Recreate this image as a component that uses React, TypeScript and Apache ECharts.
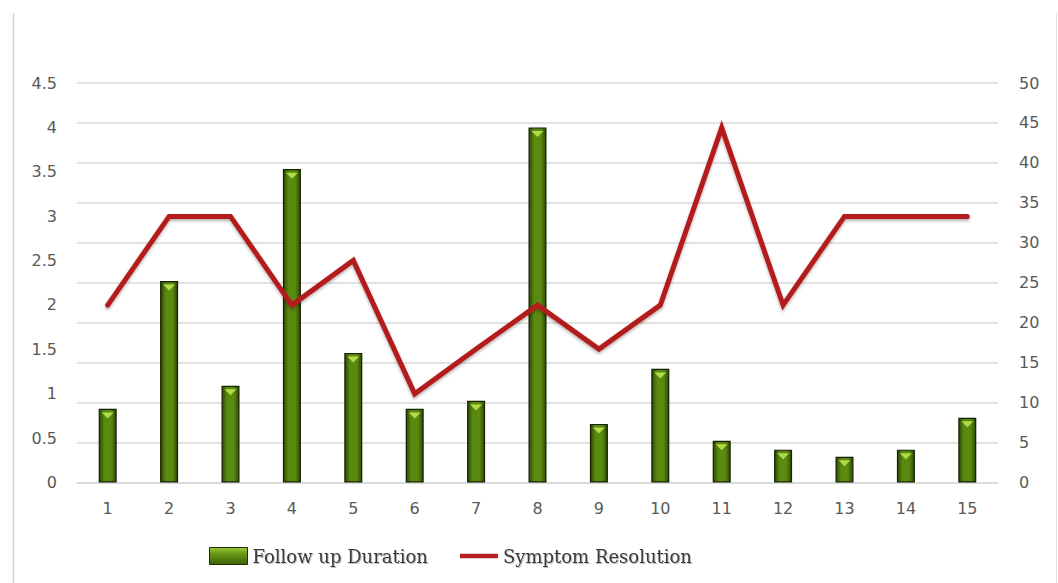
import React, { useEffect, useRef } from "react";
import * as echarts from "echarts";

const categories = ["1", "2", "3", "4", "5", "6", "7", "8", "9", "10", "11", "12", "13", "14", "15"];
const followUpDuration = [0.83, 2.27, 1.09, 3.53, 1.46, 0.83, 0.92, 4.0, 0.66, 1.28, 0.47, 0.37, 0.29, 0.37, 0.73];
const symptomResolution = [22.2, 33.3, 33.3, 22.2, 27.8, 11.1, 16.7, 22.2, 16.7, 22.2, 44.4, 22.2, 33.3, 33.3, 33.3];

export default function App() {
  const ref = useRef<HTMLDivElement>(null);
  useEffect(() => {
    document.body.style.margin = "0";
    const chart = echarts.init(ref.current!, undefined, { renderer: "svg" });
    const barGradient = new echarts.graphic.LinearGradient(0, 0, 1, 0, [
      { offset: 0, color: "#2e4a04" },
      { offset: 0.3, color: "#5a8a10" },
      { offset: 0.7, color: "#5a8a10" },
      { offset: 1, color: "#2e4a04" },
    ]);
    const legendGradient = new echarts.graphic.LinearGradient(0, 0, 0, 1, [
      { offset: 0, color: "#9ccc3a" },
      { offset: 0.35, color: "#6a9a18" },
      { offset: 1, color: "#3d6006" },
    ]);
    const labelStyle = { color: "#595959", fontFamily: "DejaVu Sans", fontSize: 16 };
    chart.setOption({
      animation: false,
      backgroundColor: "#ffffff",
      graphic: [
        { type: "line", shape: { x1: 13.5, y1: 13, x2: 13.5, y2: 583 }, style: { stroke: "#d4d4d4", lineWidth: 1.5 } },
        { type: "line", shape: { x1: 1056.5, y1: 13, x2: 1056.5, y2: 583 }, style: { stroke: "#e0e0e0", lineWidth: 1 } },
      ],
      grid: { left: 77, right: 60, top: 83, bottom: 100.5 },
      legend: {
        left: 209,
        top: 547,
        padding: 0,
        itemWidth: 38,
        itemHeight: 17,
        itemGap: 32,
        symbolKeepAspect: true,
        textStyle: {
          fontFamily: "DejaVu Serif",
          fontSize: 18,
          color: "#3a3a3a",
          textShadowColor: "rgba(0,0,0,0.25)",
          textShadowBlur: 1,
          textShadowOffsetX: 1,
          textShadowOffsetY: 1,
        },
        data: [
          { name: "Follow up Duration", icon: "rect", itemStyle: { color: legendGradient, borderColor: "#1e3000", borderWidth: 1 } },
          { name: "Symptom Resolution", icon: "path://M0 0 H40 V4.5 H0 Z", itemStyle: { color: "#b41f1f" } },
        ],
      },
      xAxis: {
        type: "category",
        data: categories,
        axisTick: { show: false },
        axisLine: { lineStyle: { color: "#d9d9d9", width: 1.5 } },
        axisLabel: { ...labelStyle, margin: 18 },
      },
      yAxis: [
        {
          type: "value",
          min: 0,
          max: 4.5,
          interval: 0.5,
          axisLine: { show: false },
          axisTick: { show: false },
          splitLine: { show: false },
          axisLabel: { ...labelStyle, margin: 20 },
        },
        {
          type: "value",
          min: 0,
          max: 50,
          interval: 5,
          axisLine: { show: false },
          axisTick: { show: false },
          splitLine: { show: true, lineStyle: { color: "#d9d9d9", width: 1.5 } },
          axisLabel: { ...labelStyle, margin: 21 },
        },
      ],
      series: [
        {
          name: "Follow up Duration",
          type: "bar",
          yAxisIndex: 0,
          data: followUpDuration,
          barWidth: 18,
          barGap: "-100%",
          itemStyle: { color: barGradient, borderColor: "#142000", borderWidth: 1.2 },
          z: 2,
        },
        {
          name: "Follow up Highlight",
          type: "pictorialBar",
          yAxisIndex: 0,
          data: followUpDuration,
          barWidth: 18,
          barGap: "-100%",
          symbol: "triangle",
          symbolRotate: 180,
          symbolSize: [12, 6],
          symbolPosition: "end",
          symbolOffset: [0, "60%"],
          itemStyle: { color: "#b0dc48" },
          silent: true,
          z: 3,
        },
        {
          name: "Symptom Resolution",
          type: "line",
          yAxisIndex: 1,
          data: symptomResolution,
          symbol: "none",
          lineStyle: {
            color: "#b41f1f",
            width: 5,
            cap: "round",
            join: "miter",
            shadowColor: "rgba(0,0,0,0.3)",
            shadowBlur: 3,
            shadowOffsetY: 2,
          },
          itemStyle: { color: "#b41f1f" },
          z: 4,
        },
      ],
    });
    return () => chart.dispose();
  }, []);
  return <div ref={ref} style={{ width: 1058, height: 583 }} />;
}
